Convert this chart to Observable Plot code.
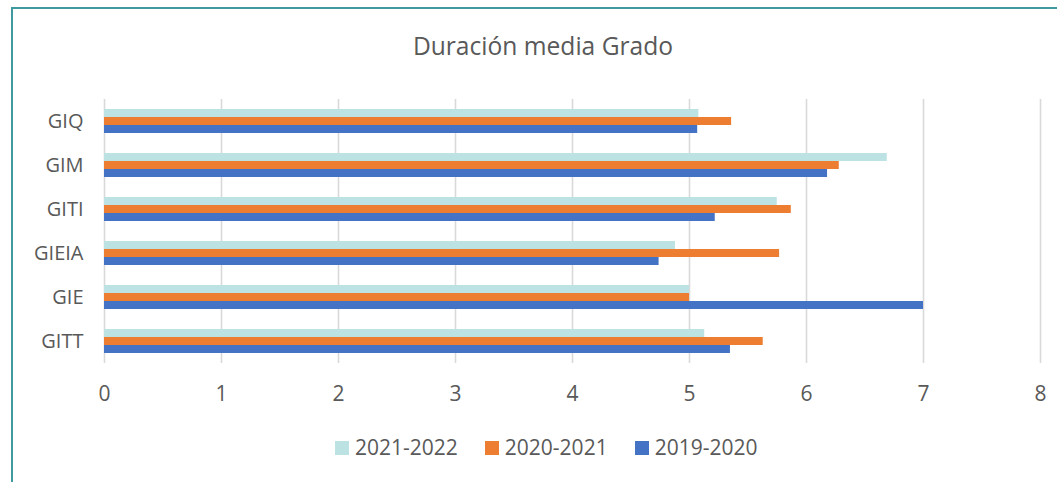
<!DOCTYPE html>
<html>
<head>
<meta charset="utf-8">
<script src="https://cdn.jsdelivr.net/npm/d3@7"></script>
<script src="https://cdn.jsdelivr.net/npm/@observablehq/plot@0.6"></script>
<style>
  html, body { margin: 0; padding: 0; background: #fff; }
  #wrap { position: relative; width: 1057px; height: 482px; overflow: hidden; font-family: "Open Sans", sans-serif; color: #595959; }
  #frame { position: absolute; left: 11px; top: 7px; width: 1100px; height: 500px; border-left: 2px solid #3f9a9f; border-top: 2px solid #3f9a9f; }
  #title { position: absolute; top: 34px; left: 0; width: 1086px; text-align: center; font-size: 24.6px; line-height: 24px; white-space: nowrap; }
  #chart { position: absolute; left: 0; top: 0; }
  #chart g[aria-label="x-axis tick label"] { font-size: 21px; }
  #chart g[aria-label="fy-axis tick label"] { font-size: 20px; }
  #legend { position: absolute; top: 437px; left: 335px; display: flex; gap: 27px; font-size: 21px; line-height: 21px; white-space: nowrap; }
  .item { display: flex; align-items: center; gap: 6px; }
  .sw { width: 14px; height: 14px; display: inline-block; }
</style>
</head>
<body>
<div id="wrap">
  <div id="frame"></div>
  <div id="chart"></div>
  <div id="title">Duración media Grado</div>
  <div id="legend"></div>
</div>
<script>
const grados = ["GIQ", "GIM", "GITI", "GIEIA", "GIE", "GITT"];
const series = ["2021-2022", "2020-2021", "2019-2020"];
const colors = ["#bde2e3", "#ed7d31", "#4472c4"];
const v2021_2022 = [5.08, 6.69, 5.75, 4.88, 5.0, 5.13];
const v2020_2021 = [5.36, 6.28, 5.87, 5.77, 5.0, 5.63];
const v2019_2020 = [5.07, 6.18, 5.22, 4.74, 7.0, 5.35];
const xTicks = [0, 1, 2, 3, 4, 5, 6, 7, 8];

const valuesBySerie = [v2021_2022, v2020_2021, v2019_2020];
const data = [];
grados.forEach((g, i) => {
  series.forEach((s, j) => data.push({grado: g, serie: s, value: valuesBySerie[j][i]}));
});

const chart = Plot.plot({
  width: 1057,
  height: 420,
  marginTop: 96,
  marginBottom: 55,
  marginLeft: 104,
  marginRight: 17,
  style: {fontFamily: "Open Sans", fontSize: "19px", color: "#595959", background: "transparent"},
  x: {domain: [0, 8], ticks: xTicks, tickSize: 0, tickPadding: 23, label: null},
  y: {domain: series, paddingInner: 0, paddingOuter: 1.11, axis: null},
  fy: {domain: grados, padding: 0, axis: "left", tickSize: 0, tickPadding: 21, label: null},
  color: {domain: series, range: colors},
  marks: [
    Plot.gridX(xTicks, {stroke: "#d9d9d9", strokeOpacity: 1, strokeWidth: 1.6}),
    Plot.barX(data, {x: "value", y: "serie", fy: "grado", fill: "serie"})
  ]
});
document.getElementById("chart").appendChild(chart);

const legend = document.getElementById("legend");
series.forEach((s, j) => {
  const item = document.createElement("div");
  item.className = "item";
  const sw = document.createElement("span");
  sw.className = "sw";
  sw.style.background = colors[j];
  const t = document.createElement("span");
  t.textContent = s;
  item.appendChild(sw);
  item.appendChild(t);
  legend.appendChild(item);
});
</script>
</body>
</html>
